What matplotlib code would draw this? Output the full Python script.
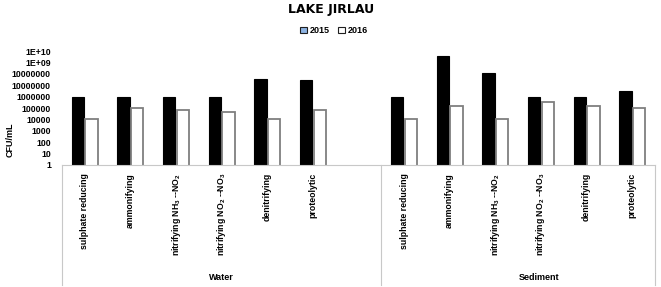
import matplotlib
matplotlib.use("Agg")
from matplotlib import pyplot as plt
import matplotlib.patches as patches
import matplotlib.transforms as transforms
import numpy

plt.rcParams['font.family'] = ['Liberation Sans', 'DejaVu Sans']
plt.rcParams['mathtext.fontset'] = 'custom'
plt.rcParams['mathtext.rm'] = 'Liberation Sans:bold'
plt.rcParams['mathtext.default'] = 'rm'

# data
categories = ['sulphate reducing', 'ammonifying', r'nitrifying NH$_{3}$ --NO$_{2}$',
              r'nitrifying NO$_{2}$ --NO$_{3}$', 'denitrifying', 'proteolytic']
groups = ['Water', 'Sediment']
water_2015 = [1e6, 1e6, 1e6, 1e6, 3.7e7, 3.1e7]
water_2016 = [1e4, 1e5, 6.3e4, 4.3e4, 1e4, 7.2e4]
sediment_2015 = [1e6, 3.7e9, 1.1e8, 1e6, 1e6, 3.3e6]
sediment_2016 = [1.1e4, 1.6e5, 1e4, 3.1e5, 1.6e5, 1.1e5]
ytick_values = [1, 10, 100, 1e3, 1e4, 1e5, 1e6, 1e7, 1e8, 1e9, 1e10]
ytick_labels = ['1', '10', '100', '1000', '10000', '100000', '1000000',
                '10000000', '10000000', '1E+09', '1E+10']

W, H = 661, 287
fig = plt.figure(figsize=(W / 100, H / 100), dpi=100)
ax = fig.add_axes([62 / W, 1 - 165 / H, 593 / W, 114 / H])

# water occupies slots 0-5 (slot 6 empty), sediment slots 7-12
water_x = numpy.arange(6)
sediment_x = numpy.arange(7, 13)
xs = numpy.concatenate([water_x, sediment_x])
v2015 = water_2015 + sediment_2015
v2016 = water_2016 + sediment_2016

bw = 0.27
ax.bar(xs - 0.15, v2015, bw, color='black', edgecolor='black', linewidth=0.8, label='2015')
ax.bar(xs + 0.15, v2016, bw, color='white', edgecolor='#7f7f7f', linewidth=1.3, label='2016')

ax.set_yscale('log')
ax.set_ylim(1, 1e10)
ax.set_xlim(-0.5, 12.5)
ax.set_yticks(ytick_values)
ax.set_yticklabels(ytick_labels, fontsize=6.3, fontweight='bold')
ax.yaxis.set_minor_locator(matplotlib.ticker.NullLocator())
ax.tick_params(axis='y', length=0, pad=8)
ax.set_xticks([])
for s in ['top', 'right', 'left']:
    ax.spines[s].set_visible(False)
ax.spines['bottom'].set_color('#c8c8c8')
ax.spines['bottom'].set_linewidth(0.8)

trans = transforms.blended_transform_factory(ax.transData, ax.transAxes)
dy = 8 / 114
for i, x in enumerate(xs):
    ax.text(x, -dy, categories[i % 6], transform=trans, rotation=90, ha='center', va='top',
            fontsize=6.3, fontweight='bold')

for xv in [-0.5, 6.5, 12.5]:
    ax.plot([xv, xv], [0, -120 / 114], transform=trans, color='#c8c8c8', lw=0.8, clip_on=False)

ax.text(3.0, -112 / 114, groups[0], transform=trans, ha='center', va='center', fontsize=6.5, fontweight='bold')
ax.text(9.95, -112 / 114, groups[1], transform=trans, ha='center', va='center', fontsize=6.5, fontweight='bold')

fig.text(10 / W, 1 - 140 / H, 'CFU/mL', rotation=90, ha='center', va='center', fontsize=6.5, fontweight='bold')
fig.text(331 / W, 1 - 10 / H, 'LAKE JIRLAU', ha='center', va='center', fontsize=9,
         fontweight='bold', family='DejaVu Sans')

handles = [patches.Patch(facecolor='#8db3e2', edgecolor='#1f1f1f', linewidth=0.8),
           patches.Patch(facecolor='white', edgecolor='#1f1f1f', linewidth=0.8)]
fig.legend(handles, ['2015', '2016'], loc='center', bbox_to_anchor=(334 / W, 1 - 31 / H), ncol=2,
           frameon=False, prop={'size': 6.5, 'weight': 'bold'}, handlelength=0.7, handleheight=0.7,
           handletextpad=0.3, columnspacing=1.0)

fig.savefig('out.png', dpi=100)
